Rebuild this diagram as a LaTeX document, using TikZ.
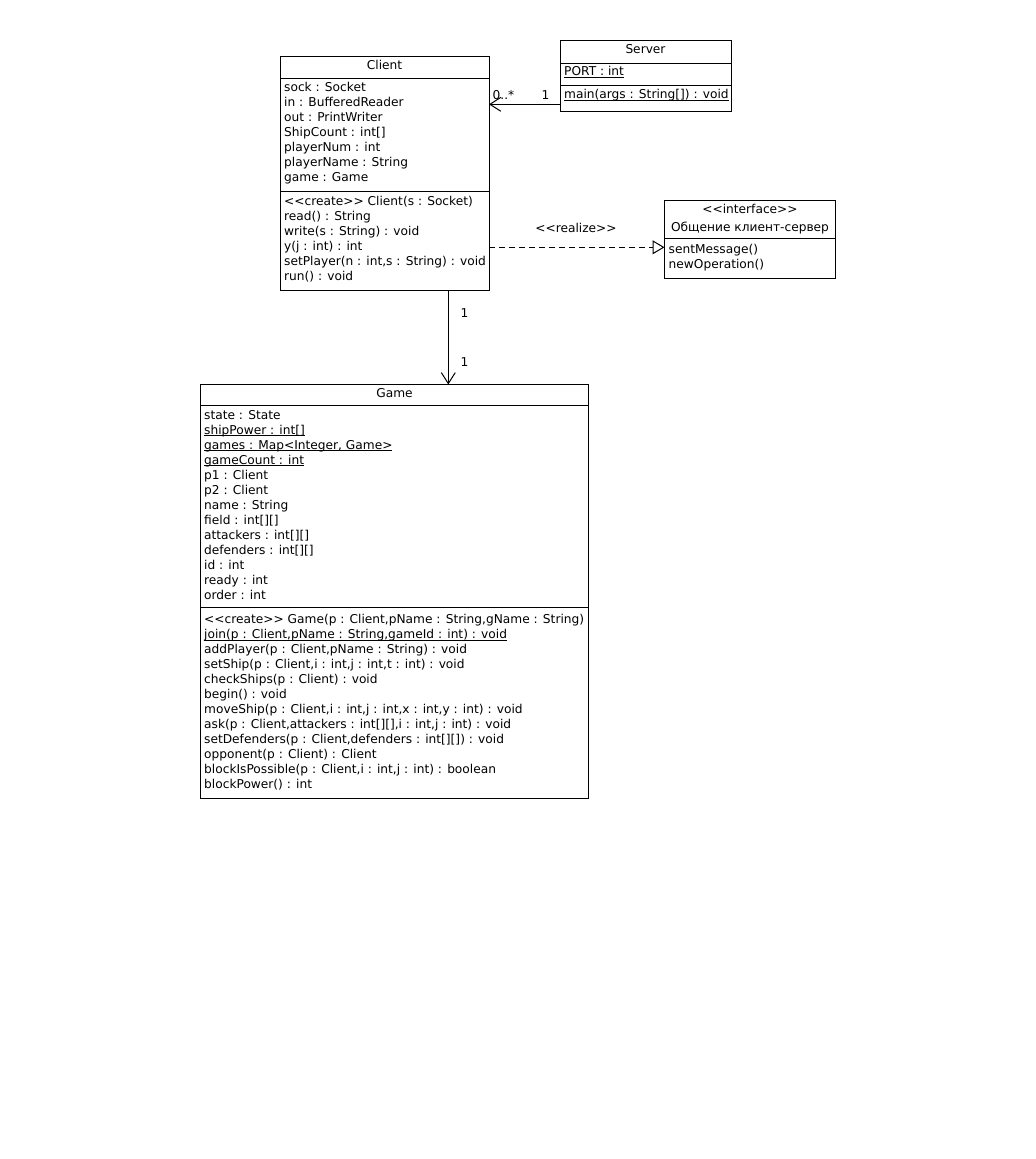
\documentclass[tikz,border=0pt]{standalone}
\usepackage{fontspec}
\setmainfont{DejaVu Sans}[Ligatures=TeXOff]
\usetikzlibrary{arrows.meta}
% static members: underline drawn through the descenders
\newcommand\statictext[1]{\setbox0\hbox{#1}\rlap{\rule[-2bp]{\wd0}{0.9bp}}\box0}
\begin{document}
\begin{tikzpicture}[x=1bp,y=-1bp,
  classbox/.style={draw, line width=1bp, fill=white, anchor=north west,
    inner sep=0pt, outer sep=0pt},
  member/.style={anchor=base west, inner sep=0pt, font=\fontsize{12.2bp}{15bp}\selectfont},
  heading/.style={anchor=base, inner sep=0pt, font=\fontsize{12.2bp}{15bp}\selectfont},
  divider/.style={line width=1bp},
  assoc/.style={line width=1bp, -{Straight Barb[length=11bp, width=14bp, line width=1bp]}},
  realize/.style={line width=1bp, dash pattern=on 6bp off 4bp,
    -{Triangle[open, length=12bp, width=14bp, line width=1bp, fill=white]}},
  mult/.style={anchor=base, inner sep=0pt, font=\fontsize{12.2bp}{15bp}\selectfont},
]
\useasboundingbox[fill=white] (0,0) rectangle (1036,1159);

% ---- Client ----
\node[classbox, minimum width=209bp, minimum height=234bp] (client) at (280,56.5) {};
\draw[divider] (280,78.3) -- (489,78.3);
\draw[divider] (280,191) -- (489,191);
\node[heading] (client-name) at (384.5,69) {Client};
\foreach \t [count=\i] in {{sock : Socket},{in : BufferedReader},{out : PrintWriter},
    {ShipCount : int[]},{playerNum : int},{playerName : String},{game : Game}}
  \node[member] (client-attr-\i) at (284,{91.5+15*(\i-1)}) {\t};
\foreach \t [count=\i] in {{<<create>> Client(s : Socket)},{read() : String},
    {write(s : String) : void},{y(j : int) : int},{setPlayer(n : int,s : String) : void},
    {run() : void}}
  \node[member] (client-op-\i) at (284,{205.5+15*(\i-1)}) {\t};

% ---- Server ----
\node[classbox, minimum width=171bp, minimum height=70.5bp] (server) at (560,40.5) {};
\draw[divider] (560,63.3) -- (731,63.3);
\draw[divider] (560,85.7) -- (731,85.7);
\node[heading] (server-name) at (645.5,53) {Server};
\node[member] (server-attr-1) at (564,75.7) {\statictext{PORT : int}};
\node[member] (server-op-1) at (564,98.5) {\statictext{main(args : String[]) : void}};

% ---- interface ----
\node[classbox, minimum width=171bp, minimum height=78.5bp] (iface) at (664.5,200) {};
\draw[divider] (664.5,238.5) -- (835.5,238.5);
\node[heading] (iface-stereo) at (750,213.3) {<<interface>>};
\node[heading] (iface-name) at (750,231) {Общение клиент-сервер};
\node[member] (iface-op-1) at (668.5,253.5) {sentMessage()};
\node[member] (iface-op-2) at (668.5,268.5) {newOperation()};

% ---- Game ----
\node[classbox, minimum width=388bp, minimum height=414bp] (game) at (200.5,384.5) {};
\draw[divider] (200.5,405.7) -- (588.5,405.7);
\draw[divider] (200.5,607.5) -- (588.5,607.5);
\node[heading] (game-name) at (394.5,397.3) {Game};
\foreach \t [count=\i] in {{state : State},{\statictext{shipPower : int[]}},
    {\statictext{games : Map<Integer, Game>}},{\statictext{gameCount : int}},
    {p1 : Client},{p2 : Client},{name : String},{field : int[][]},
    {attackers : int[][]},{defenders : int[][]},{id : int},{ready : int},{order : int}}
  \node[member] (game-attr-\i) at (204,{419+15*(\i-1)}) {\t};
\foreach \t [count=\i] in {{<<create>> Game(p : Client,pName : String,gName : String)},
    {\statictext{join(p : Client,pName : String,gameId : int) : void}},
    {addPlayer(p : Client,pName : String) : void},
    {setShip(p : Client,i : int,j : int,t : int) : void},
    {checkShips(p : Client) : void},{begin() : void},
    {moveShip(p : Client,i : int,j : int,x : int,y : int) : void},
    {ask(p : Client,attackers : int[][],i : int,j : int) : void},
    {setDefenders(p : Client,defenders : int[][]) : void},
    {opponent(p : Client) : Client},
    {blockIsPossible(p : Client,i : int,j : int) : boolean},
    {blockPower() : int}}
  \node[member] (game-op-\i) at (204,{623.5+15*(\i-1)}) {\t};

% ---- relations ----
\draw[assoc] (server.west |- 0,104.3) -- (client.east |- 0,104.3);
\node[mult] (m-client) at (503.5,99.3) {0..*};
\node[mult] (m-server) at (545.5,99.3) {1};

\draw[realize] (client.east |- 0,247.3) -- (iface.west |- 0,247.3);
\node[mult] (realize-label) at (576,232.3) {<<realize>>};

\draw[assoc] (client.south -| 448.3,0) -- (game.north -| 448.3,0);
\node[mult] (m-top) at (464.5,317) {1};
\node[mult] (m-bottom) at (464.5,366) {1};
\end{tikzpicture}
\end{document}
